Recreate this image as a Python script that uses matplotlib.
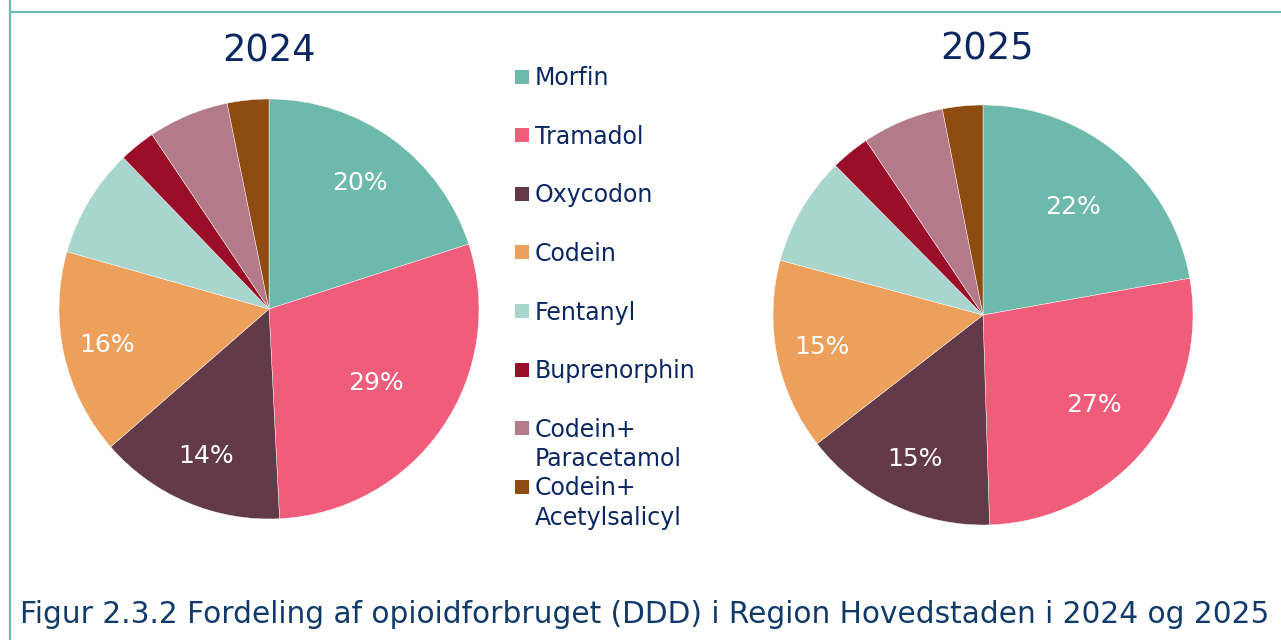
import matplotlib.pyplot as plt
from matplotlib.patches import Rectangle
from matplotlib.lines import Line2D

W, H = 1281, 640

labels = ["Morfin", "Tramadol", "Oxycodon", "Codein", "Fentanyl",
          "Buprenorphin", "Codein+\nParacetamol", "Codein+\nAcetylsalicyl"]
colors = ["#6db9ab", "#f05d7a", "#633a48", "#eda05c", "#a8d5ce",
          "#9a0e29", "#b37a8a", "#8e4c12"]

years = ["2024", "2025"]
share_2024 = [20.0, 29.2, 14.4, 15.8, 8.4, 2.8, 6.2, 3.2]
share_2025 = [22.2, 27.3, 15.0, 14.7, 8.4, 3.0, 6.3, 3.1]

navy = "#0b2762"
caption_col = "#0f3a6a"
border = "#6fbcae"


def fx(px):
    return px / W


def fy(py):
    return 1 - py / H


fig = plt.figure(figsize=(W / 100, H / 100), dpi=100)
fig.patch.set_facecolor("white")

# frame lines (top and left only)
fig.add_artist(Line2D([fx(10), 1], [fy(11.5), fy(11.5)], color=border, lw=1.6))
fig.add_artist(Line2D([fx(10), fx(10)], [0, 1], color=border, lw=1.6))


def draw_pie(values, cx, cy, title, tx, ty, dists):
    r = 210
    ax = fig.add_axes([fx(cx - r), fy(cy + r), 2 * r / W, 2 * r / H])
    wedges, texts, autotexts = ax.pie(
        values, colors=colors, startangle=90, counterclock=False,
        wedgeprops=dict(edgecolor="white", linewidth=0.3),
        autopct=lambda p: f"{p:.0f}%" if p > 10 else "",
        pctdistance=1.0,
        textprops=dict(color="white", fontsize=18))
    for t, d in zip(autotexts, dists):
        x, y = t.get_position()
        t.set_position((x * d, y * d))
    ax.set_xlim(-1, 1)
    ax.set_ylim(-1, 1)
    ax.set_aspect("equal")
    ax.axis("off")
    fig.text(fx(tx), fy(ty), title, ha="center", va="center",
             fontsize=26.5, color=navy)
    return wedges


draw_pie(share_2024, 269, 309, years[0], 269, 51.5,
         [0.74, 0.62, 0.76, 0.79, 0, 0, 0, 0])
draw_pie(share_2025, 983, 315, years[1], 987, 49.5,
         [0.67, 0.68, 0.76, 0.78, 0, 0, 0, 0])

# legend drawn by hand to keep Excel's fixed row pitch
leg_fs = 17
cap = 0.73 * leg_fs * 100 / 72
for i, (lab, col) in enumerate(zip(labels, colors)):
    yc = 76.5 + i * 58.6
    fig.add_artist(Rectangle((fx(515), fy(yc + 7)), 14 / W, 14 / H,
                             facecolor=col, edgecolor="none",
                             transform=fig.transFigure))
    for k, line in enumerate(lab.split("\n")):
        fig.text(fx(535), fy(yc + cap / 2 + k * 29.5), line, ha="left",
                 va="baseline", fontsize=leg_fs, color=navy)

fig.text(fx(20), fy(623), "Figur 2.3.2 Fordeling af opioidforbruget (DDD) i "
         "Region Hovedstaden i 2024 og 2025", ha="left", va="baseline",
         fontsize=21.3, color=caption_col)

fig.savefig("out.png", dpi=100)
